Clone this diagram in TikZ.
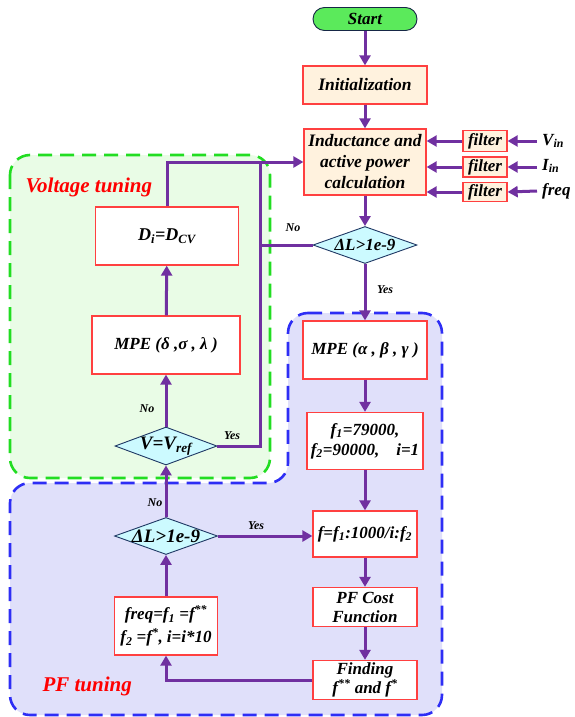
\documentclass[tikz,border=0pt]{standalone}
\usepackage{fontspec}
\setmainfont{Liberation Serif}
\usetikzlibrary{arrows.meta,shapes.geometric}
\definecolor{arrowc}{HTML}{7030A0}
\definecolor{boxred}{HTML}{FF4040}
\definecolor{cream}{HTML}{FFF2DE}
\definecolor{diafill}{HTML}{CCFAFF}
\definecolor{diadraw}{HTML}{1F3864}
\definecolor{greenfill}{HTML}{E9FCE6}
\definecolor{greendash}{HTML}{22DD22}
\definecolor{bluefill}{HTML}{E0E0FA}
\definecolor{bluedash}{HTML}{2E2EF5}
\definecolor{startgreen}{HTML}{5BEA5B}
\newcommand{\fs}[2]{\fontsize{#1}{#2}\selectfont}
\tikzset{
  every node/.style={font=\bfseries\itshape},
  procbox/.style={draw=boxred, line width=1.3pt, fill=white, inner sep=0pt, align=center},
  creambox/.style={procbox, fill=cream},
  dia/.style={diamond, draw=diadraw, line width=0.9pt, fill=diafill, inner sep=0pt, aspect=2.8},
  arr/.style={draw=arrowc, line width=3pt, -{Triangle[length=10pt,width=11pt]}},
  plainline/.style={draw=arrowc, line width=3pt},
  lbl/.style={font=\bfseries\itshape\fs{12}{14}},
  regiontitle/.style={font=\bfseries\itshape\fs{21}{24}, text=red},
}
\begin{document}
\begin{tikzpicture}[x=1pt,y=-1pt]
\useasboundingbox (0,0) rectangle (574,717);
% regions
\draw[draw=greendash, fill=greenfill, line width=2.6pt, dash pattern=on 14pt off 8pt, rounded corners=20pt]
  (10,155) rectangle (270,478);
\draw[draw=bluedash, fill=bluefill, line width=2.6pt, dash pattern=on 14pt off 8pt, rounded corners=20pt]
  (288,313) -- (442,313) -- (442,715) -- (10,715) -- (10,483) -- (288,483) -- cycle;
\node[regiontitle, anchor=west] (vt) at (22,187) {Voltage tuning};
\node[regiontitle, anchor=west] (pft) at (39,686) {PF tuning};

% main column
\node[draw=diadraw!70!black, line width=0.9pt, fill=startgreen, rounded corners=11.5pt,
      minimum width=104pt, minimum height=23pt, inner sep=0pt, font=\bfseries\itshape\fs{17}{20}] (start) at (365,19) {Start};
\node[creambox, minimum width=124pt, minimum height=38pt, font=\bfseries\itshape\fs{17.5}{20}] (init) at (365,85) {Initialization};
\node[creambox, minimum width=122pt, minimum height=66pt, font=\bfseries\itshape\fs{17.5}{21}] (ind) at (365,162) {Inductance and\\active power\\calculation};

% filters
\node[creambox, minimum width=44pt, minimum height=21pt, font=\bfseries\itshape\fs{17}{20}] (fv) at (485,141) {filter};
\node[creambox, minimum width=44pt, minimum height=20pt, font=\bfseries\itshape\fs{17}{20}] (fi) at (485,167) {filter};
\node[creambox, minimum width=44pt, minimum height=19pt, font=\bfseries\itshape\fs{17}{20}] (ff) at (485,192) {filter};
\node[anchor=west, inner sep=0pt, font=\bfseries\itshape\fs{17}{20}] (vin) at (542,141) {V\textsubscript{in}};
\node[anchor=west, inner sep=0pt, font=\bfseries\itshape\fs{17}{20}] (iin) at (542,166) {I\textsubscript{in}};
\node[anchor=west, inner sep=0pt, font=\bfseries\itshape\fs{17}{20}] (fin) at (542,191) {freq};

\node[dia, minimum width=104pt, minimum height=37pt] (d1) at (365,245) {};
\node[font=\bfseries\itshape\fs{17}{20}] (d1t) at (d1) {ΔL>1e-9};

\node[procbox, minimum width=124pt, minimum height=58pt, font=\bfseries\itshape\fs{17}{20}] (mpe1) at (365,350) {MPE (α , β , γ )};
\node[procbox, minimum width=116pt, minimum height=57pt, font=\bfseries\itshape\fs{17}{20}] (finit) at (365,441) {f\textsubscript{1}=79000,\\f\textsubscript{2}=90000,\quad i=1};
\node[procbox, minimum width=104pt, minimum height=46pt, font=\bfseries\itshape\fs{17}{20}] (ffunc) at (365,534) {f=f\textsubscript{1}:1000/i:f\textsubscript{2}};
\node[procbox, minimum width=104pt, minimum height=39pt, font=\bfseries\itshape\fs{17}{19}] (cost) at (365,607) {PF Cost\\Function};
\node[procbox, minimum width=104pt, minimum height=39pt, font=\bfseries\itshape\fs{17}{19}] (find) at (365,680) {Finding\\f\textsuperscript{**} and f\textsuperscript{*}};

% left column
\node[procbox, minimum width=143pt, minimum height=58pt, font=\bfseries\itshape\fs{18}{22}] (di) at (167,236) {D\textsubscript{i}=D\textsubscript{CV}};
\node[procbox, minimum width=148pt, minimum height=58pt, font=\bfseries\itshape\fs{17}{20}] (mpe2) at (166,345) {MPE (δ ,σ , λ )};
\node[dia, minimum width=102pt, minimum height=38pt] (vref) at (166,446) {};
\node[font=\bfseries\itshape\fs{19}{20}] (vreft) at (vref) {V=V\textsubscript{ref}};
\node[dia, minimum width=103pt, minimum height=37pt] (d2) at (166,536) {};
\node[font=\bfseries\itshape\fs{19}{20}] (d2t) at (d2) {ΔL>1e-9};
\node[procbox, minimum width=103pt, minimum height=58pt, font=\bfseries\itshape\fs{17}{23}] (freq) at (166,626) {freq=f\textsubscript{1} =f\textsuperscript{**}\\f\textsubscript{2} =f\textsuperscript{*}, i=i*10};

\coordinate (j) at (260,162);

% connectors
\draw[arr] (start) -- (init);
\draw[arr] (init) -- (ind);
\draw[arr] (fv.west) -- (fv.west -| ind.east);
\draw[arr] (fi.west) -- (fi.west -| ind.east);
\draw[arr] (ff.west) -- (ff.west -| ind.east);
\draw[arr] ([xshift=-5pt]vin.west) -- (fv.east);
\draw[arr] ([xshift=-5pt]iin.west |- fi.east) -- (fi.east);
\draw[arr] ([xshift=-5pt]fin.west) -- (ff.east);
\draw[arr] (ind) -- (d1);
\draw[arr] (d1) -- (mpe1);
\draw[plainline] (d1.west) -- (d1.west -| j);
\draw[plainline] (vref.east) -| (j);
\draw[arr] (di.north) |- (ind.west);
\draw[arr] (mpe2) -- (di);
\draw[arr] (vref) -- (mpe2);
\draw[arr] (d2) -- (vref);
\draw[arr] (d2.east) -- (d2.east -| ffunc.west);
\draw[arr] (mpe1) -- (finit);
\draw[arr] (finit) -- (ffunc);
\draw[arr] (ffunc) -- (cost);
\draw[arr] (cost) -- (find);
\draw[arr] (find.west) -| (freq.south);
\draw[arr] (freq) -- (d2);

% branch labels
\node[lbl] (l1) at (293,228) {No};
\node[lbl] (l2) at (385,290) {Yes};
\node[lbl] (l3) at (147,409) {No};
\node[lbl] (l4) at (232,436) {Yes};
\node[lbl] (l5) at (155,503) {No};
\node[lbl] (l6) at (256,526) {Yes};
\end{tikzpicture}
\end{document}
